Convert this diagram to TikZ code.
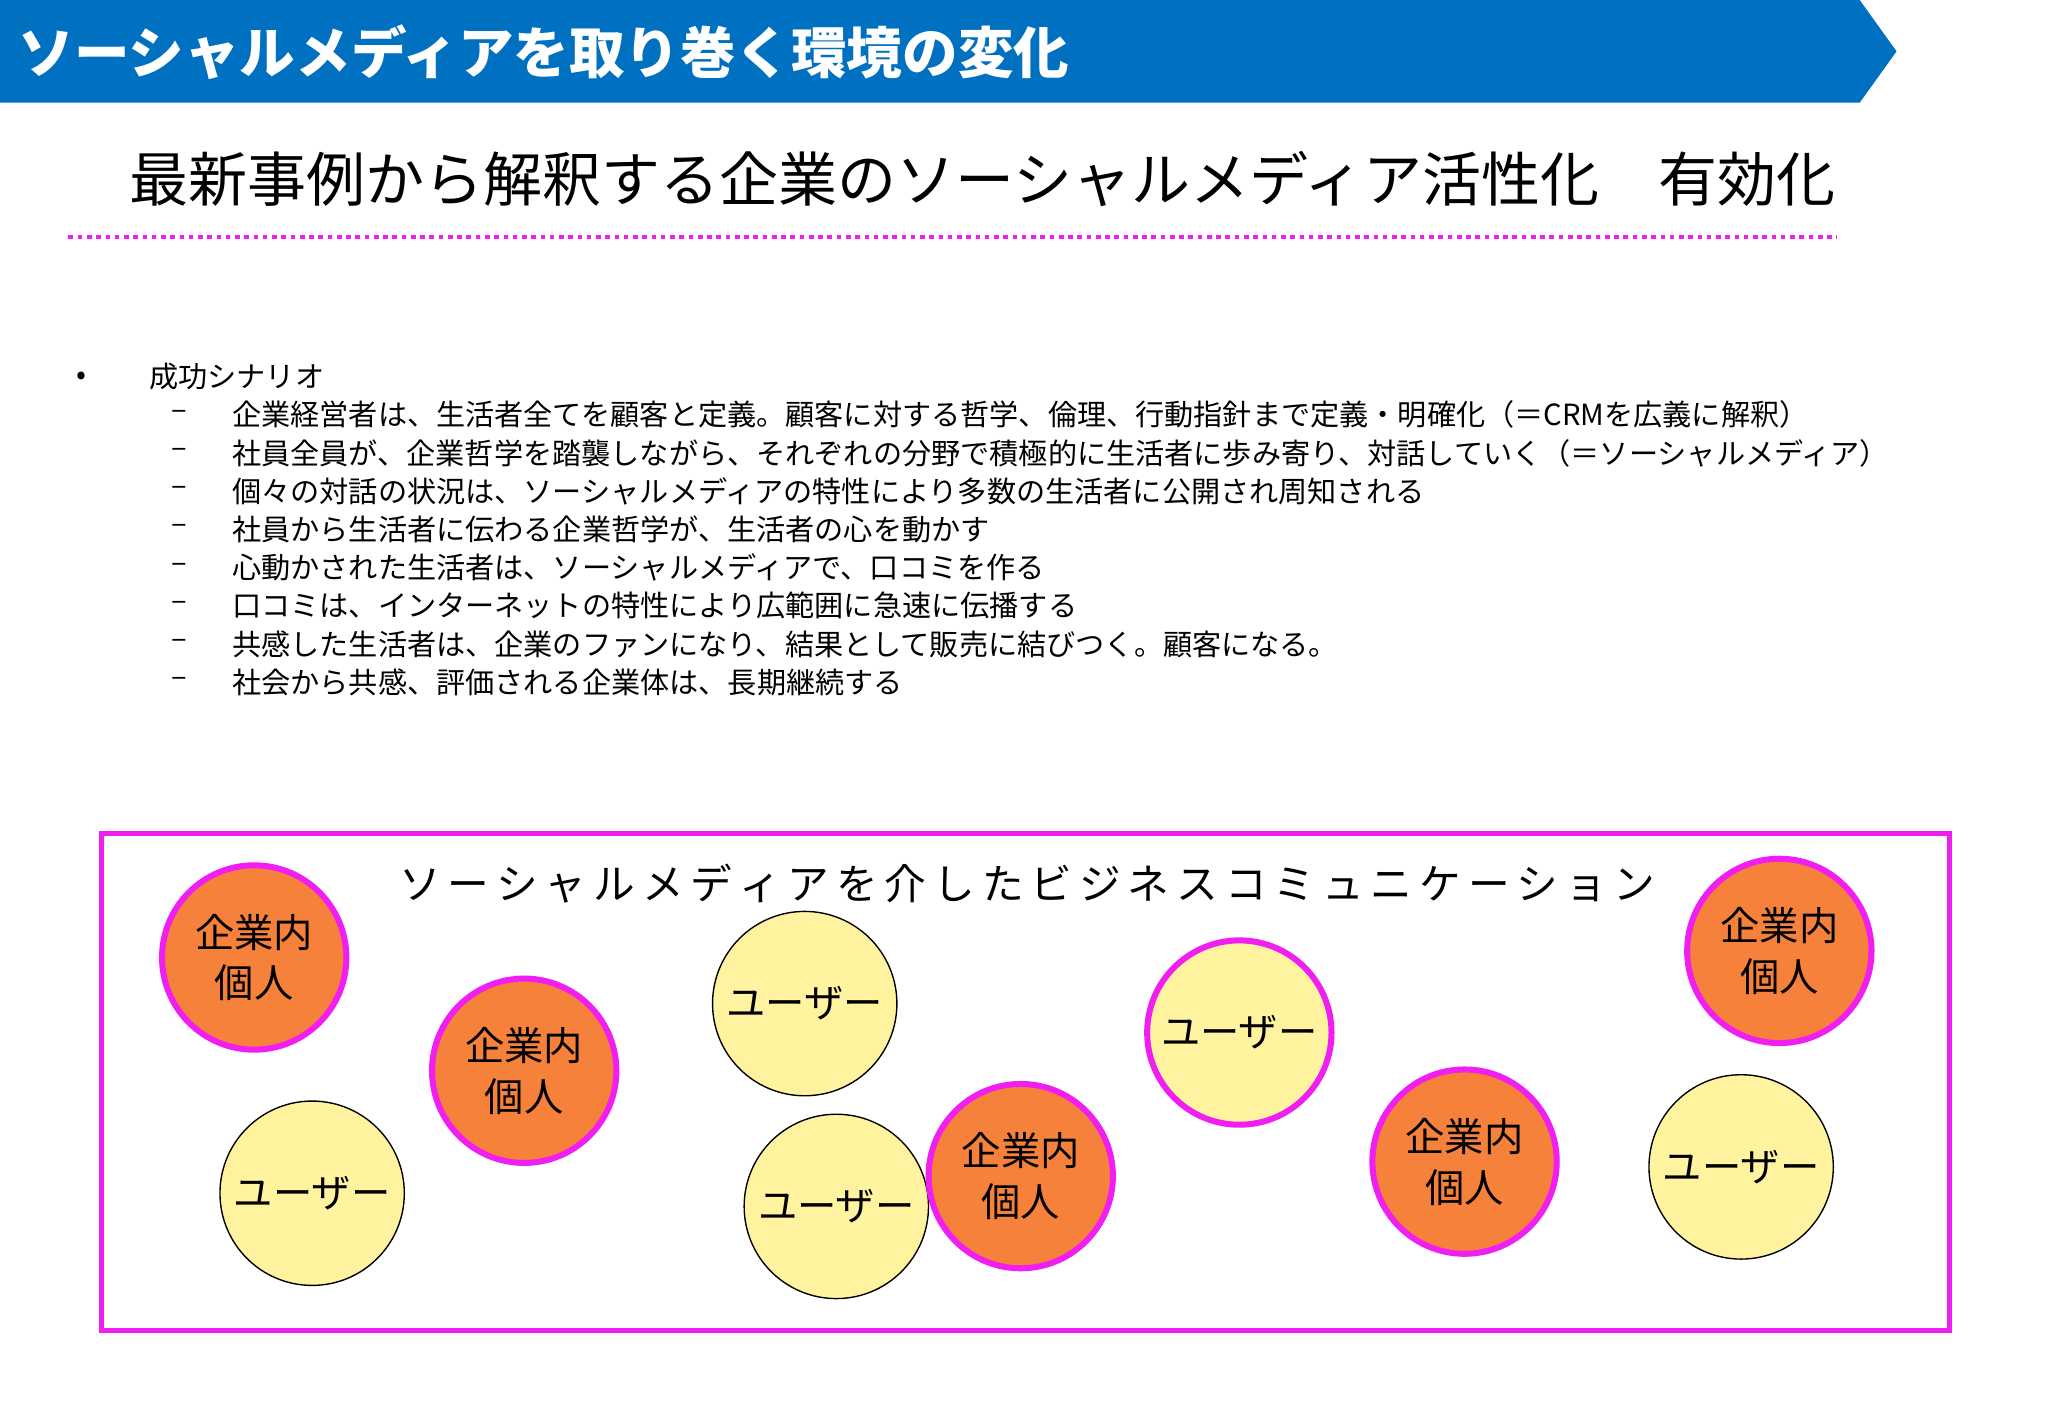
\documentclass[tikz,border=0pt]{standalone}
\usepackage{fontspec}
\setmainfont{Noto Sans CJK JP}
\definecolor{banner}{HTML}{0070C0}
\definecolor{mag}{HTML}{F01EF0}
\definecolor{org}{HTML}{F6813A}
\definecolor{yel}{HTML}{FFF3A0}
\begin{document}
\begin{tikzpicture}[x=0.02cm,y=-0.02cm,
  emp/.style={circle,draw=mag,line width=2.6pt,fill=org,minimum size=2.8cm,inner sep=0pt,align=center,font=\fontsize{17}{22}\selectfont},
  usr/.style={circle,draw=black,line width=0.6pt,fill=yel,minimum size=2.8cm,inner sep=0pt,font=\fontsize{17}{20}\selectfont},
  usrm/.style={usr,draw=mag,line width=2.6pt},
  li/.style={anchor=west,font=\fontsize{12.6}{14}\selectfont,inner sep=0pt}]
\useasboundingbox (0,0) rectangle (1555,1077);
\fill[white] (0,0) rectangle (1555,1077);
\fill[banner] (0,0) -- (1412,0) -- (1440,39) -- (1412,78) -- (0,78) -- cycle;
\node[anchor=west,text=white,font=\fontsize{24}{26}\selectfont\bfseries,inner sep=0pt] (title) at (14,40) {ソーシャルメディアを取り巻く環境の変化};
\node[font=\fontsize{25.5}{28}\selectfont,inner sep=0pt] (sub) at (746,136) {最新事例から解釈する企業のソーシャルメディア活性化　有効化};
\draw[mag,line width=2pt,dash pattern=on 2pt off 2pt] (52,180) -- (1395,180);
\node[li] (b0) at (58,287) {•};
\node[li] (h) at (113,286) {成功シナリオ};
\foreach \i/\t in {0/{企業経営者は、生活者全てを顧客と定義。顧客に対する哲学、倫理、行動指針まで定義・明確化（＝CRMを広義に解釈）},
1/{社員全員が、企業哲学を踏襲しながら、それぞれの分野で積極的に生活者に歩み寄り、対話していく（＝ソーシャルメディア）},
2/{個々の対話の状況は、ソーシャルメディアの特性により多数の生活者に公開され周知される},
3/{社員から生活者に伝わる企業哲学が、生活者の心を動かす},
4/{心動かされた生活者は、ソーシャルメディアで、口コミを作る},
5/{口コミは、インターネットの特性により広範囲に急速に伝播する},
6/{共感した生活者は、企業のファンになり、結果として販売に結びつく。顧客になる。},
7/{社会から共感、評価される企業体は、長期継続する}}{
  \node[li] (d\i) at (130,{315+29*\i}) {–};
  \node[li] (t\i) at (176,{315+29*\i}) {\t};
}
\draw[mag,line width=2.3pt] (77,633) rectangle (1480,1010);
\node[font=\fontsize{18}{20}\selectfont,inner sep=0pt] (cap) at (780,671) {ソ\,ー\,シ\,ャ\,ル\,メ\,デ\,ィ\,ア\,を\,介\,し\,た\,ビ\,ジ\,ネ\,ス\,コ\,ミ\,ュ\,ニ\,ケ\,ー\,シ\,ョ\,ン};
\node[emp] (e1) at (193,727) {企業内\\個人};
\node[emp] (e2) at (398,813) {企業内\\個人};
\node[usr] (u2) at (635,916) {ユーザー};
\node[emp] (e3) at (775,893) {企業内\\個人};
\node[emp] (e4) at (1112,882) {企業内\\個人};
\node[emp] (e5) at (1351,722) {企業内\\個人};
\node[usr] (u1) at (237,906) {ユーザー};
\node[usr] (u3) at (611,762) {ユーザー};
\node[usr] (u4) at (1322,886) {ユーザー};
\node[usrm] (u5) at (941,784) {ユーザー};
\useasboundingbox (0,0) rectangle (1568,1086);
\end{tikzpicture}
\end{document}
